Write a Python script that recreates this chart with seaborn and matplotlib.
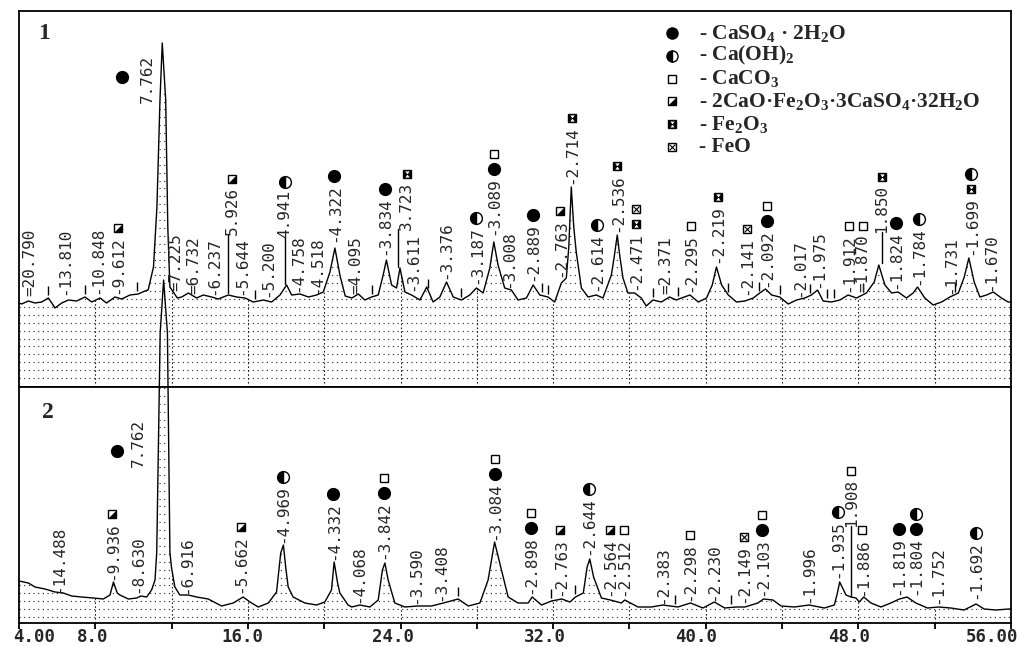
import numpy as np
import matplotlib
matplotlib.use('Agg')
import matplotlib.pyplot as plt
import seaborn as sns
from matplotlib.transforms import ScaledTranslation

# XRD patterns (Cu K-alpha), 2-theta in degrees, intensity in arbitrary units
tt1 = [4.00, 4.14, 4.49, 4.84, 5.19, 5.54, 5.89, 6.24, 6.59, 7.02, 7.46, 7.81, 8.25, 8.59,
       9.03, 9.38, 9.82, 10.25, 10.60, 10.77, 11.05, 11.23, 11.39, 11.51, 11.69, 11.80, 11.91,
       12.09, 12.30, 12.53, 12.88, 13.31, 13.66, 14.10, 14.45, 14.97, 15.41, 15.85, 16.28,
       16.81, 17.24, 17.68, 18.03, 18.29, 18.73, 19.17, 19.60, 19.95, 20.30, 20.56, 20.82,
       21.10, 21.45, 21.79, 22.13, 22.48, 22.83, 23.09, 23.26, 23.53, 23.79, 23.97, 24.23,
       24.58, 25.02, 25.37, 25.71, 26.06, 26.41, 26.76, 27.19, 27.63, 27.98, 28.33, 28.68,
       28.89, 29.11, 29.46, 29.81, 30.16, 30.60, 30.95, 31.30, 31.73, 32.08, 32.43, 32.69,
       32.82, 32.95, 33.08, 33.21, 33.48, 33.83, 34.26, 34.61, 35.05, 35.20, 35.36, 35.50,
       35.66, 35.92, 36.27, 36.62, 36.88, 37.23, 37.67, 38.10, 38.45, 38.73, 39.17, 39.61,
       40.04, 40.34, 40.56, 40.83, 41.18, 41.61, 42.05, 42.49, 42.83, 43.13, 43.45, 43.88,
       44.32, 44.76, 45.19, 45.54, 45.86, 46.15, 46.59, 47.03, 47.46, 47.90, 48.42, 48.83,
       49.07, 49.39, 49.74, 50.08, 50.52, 50.87, 51.10, 51.48, 51.92, 52.36, 52.80, 53.24,
       53.55, 53.79, 54.07, 54.37, 54.72, 55.07, 55.50, 55.85, 56.00]
int1 = [84, 83, 86, 84, 85, 89, 79, 84, 87, 86, 90, 85, 89, 84,
        90, 88, 92, 93, 96, 97, 120, 180, 287, 344, 287, 160, 100,
        95, 89, 90, 94, 89, 92, 90, 88, 92, 90, 89, 85,
        87, 85, 92, 102, 92, 93, 90, 92, 95, 115, 139, 112,
        91, 89, 93, 87, 90, 92, 112, 127, 102, 99, 119, 95,
        92, 87, 100, 85, 90, 105, 90, 87, 92, 99, 94, 119,
        145, 122, 99, 97, 87, 89, 102, 92, 90, 85, 104, 109,
        140, 200, 160, 135, 99, 90, 92, 89, 112, 130, 152, 130,
        109, 94, 94, 89, 81, 87, 85, 90, 87, 89, 92, 85,
        89, 102, 120, 102, 92, 85, 86, 89, 94, 98, 92, 90,
        83, 87, 89, 92, 97, 86, 85, 87, 92, 89, 94, 105,
        122, 102, 94, 95, 89, 94, 100, 89, 82, 85, 90, 94,
        110, 129, 105, 90, 92, 95, 89, 85, 85]

tt2 = [4.00, 4.49, 4.84, 5.36, 5.89, 6.32, 6.76, 7.28, 7.90, 8.42, 8.77, 8.95, 9.15, 9.29,
       9.73, 10.17, 10.39, 10.69, 10.95, 11.13, 11.22, 11.40, 11.58, 11.78, 11.91, 11.99,
       12.17, 12.43, 12.87, 13.31, 13.92, 14.62, 15.23, 15.75, 16.11, 16.54, 17.07, 17.50,
       17.72, 17.86, 17.98, 18.11, 18.37, 18.98, 19.60, 20.03, 20.38, 20.52, 20.70, 20.82,
       21.25, 21.44, 21.87, 22.39, 22.83, 23.05, 23.18, 23.35, 23.70, 24.23, 24.89, 25.62,
       26.25, 27.02, 27.55, 28.16, 28.59, 28.93, 29.20, 29.64, 30.16, 30.69, 30.90, 31.39,
       31.91, 32.45, 32.88, 33.17, 33.58, 33.78, 33.92, 34.12, 34.53, 35.00, 35.58, 35.75,
       36.45, 37.15, 37.75, 38.54, 39.20, 39.85, 40.45, 40.99, 41.60, 42.05, 42.73, 43.03,
       43.52, 43.95, 44.65, 45.42, 46.22, 46.74, 46.90, 47.02, 47.35, 47.61, 47.87, 48.05,
       48.28, 48.66, 49.18, 49.70, 50.15, 50.55, 51.01, 51.62, 52.20, 52.84, 53.54, 54.17,
       54.59, 55.20, 55.90, 56.00]
int2 = [42, 40, 36, 34, 31, 30, 27, 26, 25, 24, 28, 41, 30, 28,
        24, 25, 27, 26, 33, 43, 71, 290, 343, 290, 71, 56,
        36, 28, 28, 26, 24, 17, 20, 26, 21, 16, 20, 31,
        70, 78, 56, 36, 26, 20, 18, 21, 33, 61, 40, 30,
        18, 16, 18, 16, 23, 53, 60, 43, 20, 16, 17, 17,
        20, 24, 17, 20, 43, 81, 60, 26, 20, 20, 26, 18,
        22, 24, 21, 26, 30, 56, 64, 46, 25, 23, 20, 23,
        16, 16, 18, 16, 20, 15, 21, 15, 16, 16, 20, 24,
        23, 17, 16, 18, 15, 18, 30, 41, 28, 26, 25, 21,
        26, 20, 16, 20, 24, 26, 20, 15, 16, 15, 13, 19,
        14, 13, 14, 14]

# labelled reflections: d-spacing (angstrom), label prefix, phase symbols
# g CaSO4*2H2O, p Ca(OH)2, c CaCO3, f 2CaO*Fe2O3*3CaSO4*32H2O, h Fe2O3, w FeO
d1 = [20.790, 13.810, 10.848, 9.612, 7.762, 7.225, 6.732, 6.237, 5.926, 5.644, 5.200,
      4.941, 4.758, 4.518, 4.322, 4.095, 3.834, 3.723, 3.611, 3.376, 3.187, 3.089, 3.008,
      2.889, 2.763, 2.714, 2.614, 2.536, 2.471, 2.371, 2.295, 2.219, 2.141, 2.092, 2.017,
      1.975, 1.912, 1.870, 1.850, 1.824, 1.784, 1.731, 1.699, 1.670]
pre1 = ['=', '-', '-', '-', '', '=', '=', '-', '', '-', '-',
        '', '-', '-', '-', '=', '-', '', '-', '-', '-', '-', '-',
        '-', '-', '-', '-', '-', '-', '=', '-', '-', '-', '-', '-',
        '-', '-', '=', '', '-', '-', '-', '-', '-']
sym1 = ['', '', '', 'f', 'g', '', '', '', 'f', '', '',
        'p', '', '', 'g', '', 'g', 'h', '', '', 'p', 'gc', '',
        'g', 'f', 'h', 'p', 'h', 'hw', '', 'c', 'h', 'w', 'gc', '',
        '', 'c', 'c', 'h', 'g', 'p', '', 'hp', '']

d2 = [14.488, 9.936, 8.630, 7.762, 6.916, 5.662, 4.969, 4.332, 4.068, 3.842, 3.590,
      3.408, 3.084, 2.898, 2.763, 2.644, 2.564, 2.512, 2.383, 2.298, 2.230, 2.149, 2.103,
      1.996, 1.935, 1.908, 1.886, 1.819, 1.804, 1.752, 1.692]
pre2 = ['-', '-', '-', '', '-', '-', '-', '-', '-', '-', '-',
        '-', '-', '-', '-', '-', '-', '-', '-', '-', '-', '-', '-',
        '-', '-', '', '-', '-', '-', '-', '-']
sym2 = ['', 'f', '', 'g', '', 'f', 'p', 'g', '', 'gc', '',
        '', 'gc', 'gc', 'f', 'p', 'f', 'c', '', 'c', '', 'w', 'gc',
        '', 'p', 'c', 'c', 'g', 'gp', '', 'p']

# unlabelled peak marks (2-theta)
marks1 = [5.54, 7.46, 10.17, 16.37, 22.48, 25.45, 27.19, 31.39, 31.73, 37.23, 38.55,
          41.18, 42.78, 43.88, 45.45, 46.33, 46.73, 48.25, 53.06]
marks2 = [27.02, 31.91, 33.17, 38.40, 41.33]

phase_sym = ['g', 'p', 'c', 'f', 'h', 'w']
phase_names = [r'CaSO$_4$ · 2H$_2$O', r'Ca(OH)$_2$', r'CaCO$_3$',
               r'2CaO·Fe$_2$O$_3$·3CaSO$_4$·32H$_2$O', r'Fe$_2$O$_3$', 'FeO']

# label layout (base height of each label, in intensity units)
laby1 = [91, 92, 93, 93, 284, 96, 93, 92, 152, 92, 90,
         149, 95, 93, 145, 93, 132, 157, 96, 108, 103, 152, 99,
         106, 110, 203, 96, 155, 97, 93, 95, 124, 92, 100, 90,
         99, 95, 95, 154, 98, 102, 93, 132, 96]
laby2 = [30, 43, 30, 156, 29, 30, 80, 63, 20, 64, 19,
         22, 83, 29, 27, 68, 27, 27, 19, 22, 22, 20, 27,
         20, 45, 96, 27, 28, 28, 19, 24]
shift1 = {20.790: 0.3, 7.762: -0.68, 5.926: 0.25, 3.723: 0.45, 1.870: -0.4}
shift2 = {7.762: -1.15, 1.804: 0.45}
raised1 = {5.926: 94, 4.941: 103, 3.723: 120, 1.850: 124}
raised2 = {1.908: 27}
big1 = {7.762: (9.40, 310)}
big2 = {7.762: (9.14, 172)}

WAVE = 1.5406
CHAR = 9.6


def bragg(d):
    return 2 * np.degrees(np.arcsin(WAVE / (2 * d)))


def draw_sym(ax, x, y, kind, ms=8.5, **kw):
    base = dict(ls='none', clip_on=False, zorder=7, mec='black', mew=1.0)
    base.update(kw)
    sq = ms * 0.76
    if kind == 'g':
        ax.plot(x, y, marker='o', ms=ms, mfc='black', **base)
    elif kind == 'p':
        ax.plot(x, y, marker='o', ms=ms, fillstyle='left', mfc='black',
                markerfacecoloralt='white', **base)
    elif kind == 'c':
        ax.plot(x, y, marker='s', ms=sq, mfc='white', **base)
    elif kind == 'f':
        ax.plot(x, y, marker='s', ms=sq, mfc='white', **base)
        base['mew'] = 0
        ax.plot(x, y, marker=[(1, -1), (1, 1), (-1, -1)], ms=sq, mfc='black', **base)
    elif kind == 'h':
        ax.plot(x, y, marker='s', ms=sq, mfc='black', **base)
        base['mew'] = 0
        base['mec'] = 'white'
        ax.plot(x, y, marker=[(-0.7, 1), (0.7, 1), (-0.7, -1), (0.7, -1)],
                ms=sq * 0.7, mfc='white', **base)
    elif kind == 'w':
        ax.plot(x, y, marker='s', ms=sq, mfc='white', **base)
        base['mew'] = 0.8
        ax.plot(x, y, marker='x', ms=sq * 0.75, **base)


def draw_pattern(ax, tt, inten, row0):
    sns.lineplot(x=tt, y=inten, ax=ax, color='black', linewidth=1.0, estimator=None)
    ax.lines[-1].set_clip_on(False)
    poly = ax.fill_between(tt, 0, inten, facecolor='none', edgecolor='none')
    path = poly.get_paths()[0]
    rows = np.arange(row0, max(inten), 7.9)
    hl = ax.hlines(rows, 4, 56, colors='#222222', linestyles=(0, (1, 3.2)), linewidth=0.8)
    hl.set_clip_path(path, ax.transData)
    vl = ax.vlines(np.arange(8, 56, 4), 0, max(inten), colors='#222222',
                   linestyles=(0, (1.5, 2)), linewidth=0.8)
    vl.set_clip_path(path, ax.transData)


def draw_labels(ax, ds, pres, ys, syms, shift, raised, big):
    for d, p, yb, s in zip(ds, pres, ys, syms):
        x0 = bragg(d)
        xl = x0 + shift.get(d, 0)
        txt = p + f'{d:.3f}'
        ax.text(xl, yb, txt, rotation=90, ha='center', va='bottom', fontsize=11.5,
                family='DejaVu Sans Mono', clip_on=False, zorder=6)
        if d in raised:
            ax.plot([x0, x0], [raised[d], yb + 1], color='black', lw=1)
        if d in big:
            draw_sym(ax, big[d][0], big[d][1], s[0])
            continue
        top = yb + len(txt) * CHAR
        for k, c in enumerate(s):
            draw_sym(ax, xl, top + 8 + 15 * k, c)


def draw_marks(ax, tt, inten, marks):
    base = np.interp(marks, tt, inten)
    ax.vlines(marks, base + 3, base + 12, colors='black', linewidth=1.0)


sns.set_style('white')
plt.rcParams['font.family'] = ['DejaVu Sans']
plt.rcParams['mathtext.fontset'] = 'custom'
plt.rcParams['mathtext.rm'] = 'Liberation Serif:bold'
plt.rcParams['mathtext.it'] = 'Liberation Serif:bold'
plt.rcParams['mathtext.bf'] = 'Liberation Serif:bold'

fig = plt.figure(figsize=(10.25, 6.47), dpi=100)
ax1 = fig.add_axes([19 / 1025, 260 / 647, 992 / 1025, 376 / 647])
ax2 = fig.add_axes([19 / 1025, 24 / 647, 992 / 1025, 236 / 647])

draw_pattern(ax1, tt1, int1, 9)
draw_pattern(ax2, tt2, int2, 6)
draw_labels(ax1, d1, pre1, laby1, sym1, shift1, raised1, big1)
draw_labels(ax2, d2, pre2, laby2, sym2, shift2, raised2, big2)
draw_marks(ax1, tt1, int1, marks1)
draw_marks(ax2, tt2, int2, marks2)

ax1.set_ylim(0, 376)
ax2.set_ylim(0, 236)
for ax in (ax1, ax2):
    ax.set_xlim(4, 56)
    ax.set_yticks([])
    ax.set_xlabel('')
    ax.set_ylabel('')
    for sp in ax.spines.values():
        sp.set_color('black')
        sp.set_linewidth(1.3)
ax1.set_xticks([])
ax2.set_xticks(np.arange(4, 57, 4))
ax2.tick_params(axis='x', direction='out', length=4.6, width=1.3, bottom=True,
                labelbottom=False, color='black')

# x tick labels drawn as text so they can be nudged like the original
xt_pos = [4, 8, 16, 24, 32, 40, 48, 56]
xt_txt = ['4.00', '8.0', '16.0', '24.0', '32.0', '40.0', '48.0', '56.00']
xt_dx = [15, -3, -6, -8, -8, -10, -9, -19]
for x, t, dx in zip(xt_pos, xt_txt, xt_dx):
    tr = ax2.get_xaxis_transform() + ScaledTranslation(dx / 100, -23 / 100, fig.dpi_scale_trans)
    ax2.text(x, 0, t, transform=tr, ha='center', va='bottom', fontsize=12.5,
             family='DejaVu Sans Mono', fontweight='bold', clip_on=False)

ax1.text(0.025, 0.941, '1', transform=ax1.transAxes, fontsize=17, fontweight='bold',
         family='Liberation Serif', va='center', ha='center')
ax2.text(0.029, 0.894, '2', transform=ax2.transAxes, fontsize=17, fontweight='bold',
         family='Liberation Serif', va='center', ha='center')

# legend of phases
for k, (s, name) in enumerate(zip(phase_sym, phase_names)):
    yf = (354 - 22.8 * k) / 376
    draw_sym(ax1, 0.658, yf, s, ms=8, transform=ax1.transAxes)
    ax1.text(0.685, yf, '- ' + name, transform=ax1.transAxes, fontsize=15.5,
             family='Liberation Serif', fontweight='bold', va='center', ha='left')

fig.savefig('out.png', dpi=100)
